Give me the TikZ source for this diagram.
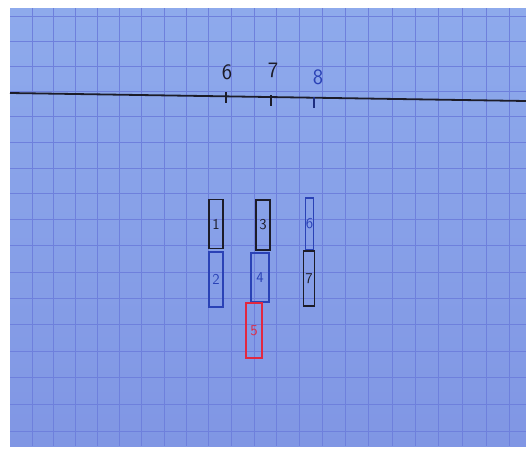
\documentclass[tikz,border=0pt]{standalone}
\usepackage{tikz}
\usetikzlibrary{positioning}

\definecolor{paperTop}{RGB}{142,170,236}
\definecolor{paperBot}{RGB}{128,150,228}
\definecolor{gridblue}{RGB}{110,128,220}
\definecolor{inkblack}{RGB}{28,28,40}
\definecolor{inkblue}{RGB}{42,66,182}
\definecolor{inkred}{RGB}{226,40,64}

\begin{document}
\begin{tikzpicture}[
  x=1pt, y=-1pt,
  font=\sffamily,
  gridline/.style={gridblue, line width=1pt},
  axisline/.style={inkblack, line width=1.8pt},
  tick/.style={line width=2pt},
  num/.style={inner sep=0pt, font=\sffamily\fontsize{22}{22}\selectfont},
  seg/.style={draw, line width=1.7pt, inner sep=0pt, font=\sffamily\fontsize{15}{15}\selectfont},
]
\useasboundingbox (0,0) rectangle (526,453);
\fill[white] (0,0) rectangle (526,453);
\shade[top color=paperTop, bottom color=paperBot] (10,8) rectangle (526,446);

% squared paper
\foreach \i in {0,...,21}
  \draw[gridline] ({32+21.7*\i+0.05*\i*\i},8) -- ++(0,438);
\foreach \j in {0,...,16}
  \draw[gridline] (10,{16+25*\j+0.06*\j*\j}) -- ++(516,0);

% number line
\coordinate (axL) at (10,93);
\coordinate (axR) at (526,101);
\draw[axisline] (axL) -- (axR);
\coordinate (t6) at (226,92);
\coordinate (t7) at (271,95);
\coordinate (t8) at (314,97);
\draw[tick, inkblack] (t6) -- ++(0,11);
\draw[tick, inkblack] (t7) -- ++(0,11);
\draw[tick, inkblue!70!black] (t8) -- ++(0,11);
\node[num, inkblack] (n6) at (227,72) {6};
\node[num, inkblack] (n7) at (273,70) {7};
\node[num, inkblue] (n8) at (318,77) {8};

% pieces
\node[seg, inkblack, minimum width=14pt, minimum height=49pt] (p1) at (216,224) {1};
\node[seg, inkblue, minimum width=14pt, minimum height=55pt, below=2pt of p1] (p2) {2};
\node[seg, inkblack, minimum width=14pt, minimum height=50pt] (p3) at (263,225) {3};
\node[seg, inkblue, minimum width=18pt, minimum height=49pt] (p4) at (260,277.5) {4};
\node[seg, inkred, minimum width=16pt, minimum height=55pt] (p5) at (254,330.5) {5};
\node[seg, inkblue, minimum width=8pt, minimum height=52pt] (p6) at (309.5,224) {6};
\node[seg, inkblack, minimum width=11pt, minimum height=55pt] (p7) at (309,278.5) {7};
\end{tikzpicture}
\end{document}
